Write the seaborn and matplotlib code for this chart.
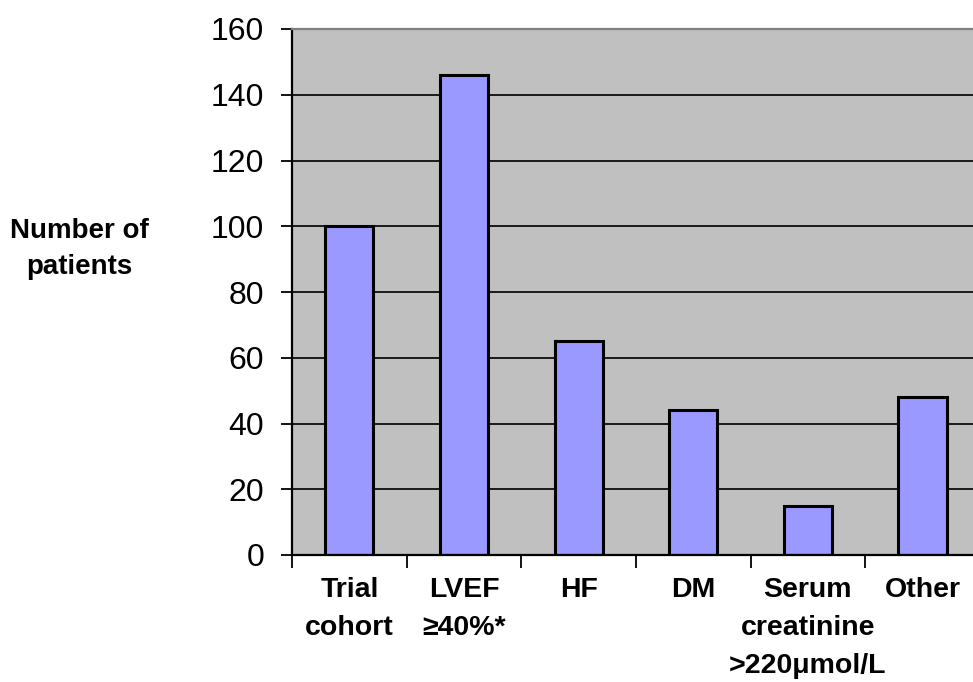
import matplotlib
matplotlib.use("Agg")
import matplotlib.pyplot as plt
import seaborn as sns
import pandas as pd
from matplotlib.ticker import FixedLocator

categories = ["Trial\ncohort", "LVEF\n≥40%*", "HF", "DM", "Serum\ncreatinine\n>220μmol/L", "Other"]
patients = [100, 146, 65, 44, 15, 48]
y_ticks = [0, 20, 40, 60, 80, 100, 120, 140, 160]

sns.set_style("white")
plt.rcParams["font.family"] = ["Liberation Sans", "DejaVu Sans"]
plt.rcParams["text.color"] = "black"
plt.rcParams["xtick.color"] = "black"
plt.rcParams["ytick.color"] = "black"
plt.rcParams["axes.labelcolor"] = "black"

df = pd.DataFrame({"group": categories, "patients": patients})

fig = plt.figure(figsize=(9.73, 6.82), dpi=100)
ax = fig.add_axes([292 / 973, 1 - 555 / 682, 1 - 292 / 973, (555 - 29) / 682])
ax.set_facecolor("#c0c0c0")

ax.set_axisbelow(True)
ax.yaxis.grid(True, color="#1a1a1a", linewidth=1.4)
ax.xaxis.grid(False)

sns.barplot(data=df, x="group", y="patients", ax=ax, color="#9999ff",
            saturation=1, width=0.42, edgecolor="black", linewidth=2.2)

ax.set_ylim(0, 160)
ax.set_xlim(-0.5, 5.44)
ax.set_yticks(y_ticks)
ax.set_yticklabels([str(v) for v in y_ticks], fontsize=23)
ax.tick_params(axis="y", direction="out", length=8, width=1.3, color="black",
               labelcolor="black", pad=12, left=True)

ax.set_xticks(range(len(categories)))
ax.set_xticklabels(categories, fontsize=20.5, fontweight="bold", linespacing=1.6)
ax.tick_params(axis="x", which="major", length=0, pad=15.5, labelcolor="black")
ax.xaxis.set_minor_locator(FixedLocator([i + 0.5 for i in range(-1, len(categories))]))
ax.tick_params(axis="x", which="minor", direction="out", length=9, width=1.3, color="black", bottom=True)

ax.set_xlabel("")
ax.set_ylabel("")

for side in ["left", "bottom"]:
    ax.spines[side].set_color("black")
    ax.spines[side].set_linewidth(1.6)
ax.spines["top"].set_color("#808080")
ax.spines["top"].set_linewidth(1.6)
ax.spines["right"].set_visible(False)

fig.text(79 / 973, 1 - 249 / 682, "Number of\npatients", ha="center", va="center",
         fontsize=20, fontweight="bold", linespacing=1.45, color="black")

fig.savefig("out.png", dpi=100)
